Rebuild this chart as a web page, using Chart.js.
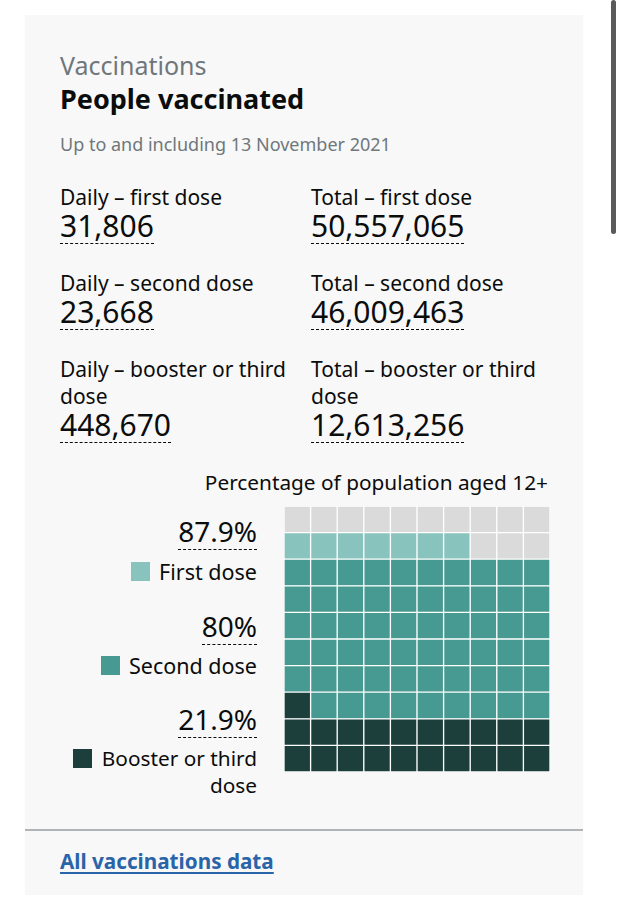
<!DOCTYPE html>
<html>
<head>
<meta charset="utf-8">
<script src="https://cdn.jsdelivr.net/npm/chart.js@4.4.1/dist/chart.umd.min.js"></script>
<style>
  html, body { margin: 0; padding: 0; background: #fff; }
  body { width: 621px; height: 900px; position: relative; overflow: hidden;
         font-family: "Noto Sans", sans-serif; color: #0b0c0c; }
  .card { position: absolute; left: 25px; top: 15px; width: 558px; height: 880px; background: #f8f8f8; }
  .t { position: absolute; white-space: nowrap; }
  .num { border-bottom: 1px dashed #0b0c0c; padding-bottom: 2px; }
  .sq { position: absolute; }
  .scroll { position: absolute; left: 611px; top: 0; width: 5px; height: 234px; background: #5a5a5a; border-radius: 3px; }
  #waffle { position: absolute; left: 284px; top: 506px; width: 266px; height: 266px; }
</style>
</head>
<body>
<div class="card"></div>
<div class="scroll"></div>

<div class="t" style="left:60px;top:50px;line-height:30px;font-size:25px;color:#6f777b">Vaccinations</div>
<div class="t" style="left:60px;top:84px;line-height:30px;font-size:27px;font-weight:700">People vaccinated</div>
<div class="t" style="left:60px;top:133px;line-height:22px;font-size:18px;color:#6f777b">Up to and including 13 November 2021</div>

<div id="headline"></div>

<div class="t" style="right:73px;top:469px;line-height:26px;font-size:20.8px">Percentage of population aged 12+</div>

<div id="legend"></div>

<div style="position:absolute;left:25px;top:829px;width:558px;height:2px;background:#b1b4b6"></div>
<div class="t" style="left:60px;top:847px;line-height:28px;font-size:20.7px;font-weight:700;color:#2a64a8;text-decoration:underline;text-underline-offset:3px">All vaccinations data</div>

<div id="waffle"><canvas id="waffle-chart"></canvas></div>

<script>
// angka ringkasan
const headlineLabels = [
  ['Daily – first dose', 'Total – first dose'],
  ['Daily – second dose', 'Total – second dose'],
  ['Daily – booster or third\ndose', 'Total – booster or third\ndose']
];
const dailyValues = ['31,806', '23,668', '448,670'];
const totalValues = ['50,557,065', '46,009,463', '12,613,256'];

// data waffle
const doseNames = ['First dose', 'Second dose', 'Booster or third\ndose'];
const dosePercent = [87.9, 80, 21.9];
const doseColors = ['#88c3be', '#479a91', '#1c3f3b'];
const emptyColor = '#dadada';

// posisi baris teks (atas label, atas angka)
const rowTops = [
  { label: 185, num: 211 },
  { label: 271, num: 297 },
  { label: 355.5, num: 410 }
];

const headline = document.getElementById('headline');
[60, 311].forEach((x, col) => {
  headlineLabels.forEach((pair, i) => {
    const lab = document.createElement('div');
    lab.className = 't';
    const lh = i === 2 ? 27 : 24;
    lab.style.cssText = `left:${x}px;top:${rowTops[i].label}px;line-height:${lh}px;font-size:21px;white-space:pre`;
    lab.textContent = pair[col];
    headline.appendChild(lab);

    const num = document.createElement('div');
    num.className = 't num';
    num.style.cssText = `left:${x}px;top:${rowTops[i].num}px;line-height:30px;font-size:30px`;
    num.textContent = (col === 0 ? dailyValues : totalValues)[i];
    headline.appendChild(num);
  });
});

// legenda kiri
const legend = document.getElementById('legend');
const legendTops = [515, 610, 703];
const sqBox = [[131, 562], [101, 656], [73, 749]];
const nameSizes = [21.5, 21.5, 20.8];
dosePercent.forEach((p, i) => {
  const pct = document.createElement('div');
  pct.className = 't num';
  pct.style.cssText = `right:364px;top:${legendTops[i]}px;line-height:32px;font-size:28px`;
  pct.textContent = p + '%';
  legend.appendChild(pct);

  const sq = document.createElement('div');
  sq.className = 'sq';
  sq.style.cssText = `left:${sqBox[i][0]}px;top:${sqBox[i][1]}px;width:19px;height:19px;background:${doseColors[i]}`;
  legend.appendChild(sq);

  const name = document.createElement('div');
  name.className = 't';
  name.style.cssText = `right:364px;top:${sqBox[i][1] - 4}px;line-height:27px;font-size:${nameSizes[i]}px;white-space:pre;text-align:right`;
  name.textContent = doseNames[i];
  legend.appendChild(name);
});

// grid 10x10, baris 0 = paling bawah
const columns = ['1', '2', '3', '4', '5', '6', '7', '8', '9', '10'];
const cutoffs = dosePercent.map(p => Math.floor(p));
function cellColor(idx) {
  // urutan dari yang terkecil: booster, second, first
  if (idx <= cutoffs[2]) return doseColors[2];
  if (idx <= cutoffs[1]) return doseColors[1];
  if (idx <= cutoffs[0]) return doseColors[0];
  return emptyColor;
}
const rows = columns.map((_, r) => ({
  data: columns.map(() => 1),
  backgroundColor: columns.map((_, c) => cellColor(r * 10 + c + 1)),
  borderColor: '#ffffff',
  borderWidth: 1,
  borderSkipped: false,
  barPercentage: 1,
  categoryPercentage: 1
}));

new Chart(document.getElementById('waffle-chart'), {
  type: 'bar',
  data: { labels: columns, datasets: rows },
  options: {
    responsive: true,
    maintainAspectRatio: false,
    animation: false,
    layout: { padding: 0 },
    plugins: { legend: { display: false }, tooltip: { enabled: false } },
    scales: {
      x: { stacked: true, display: false },
      y: { stacked: true, display: false, min: 0, max: 10 }
    }
  }
});
</script>
</body>
</html>
